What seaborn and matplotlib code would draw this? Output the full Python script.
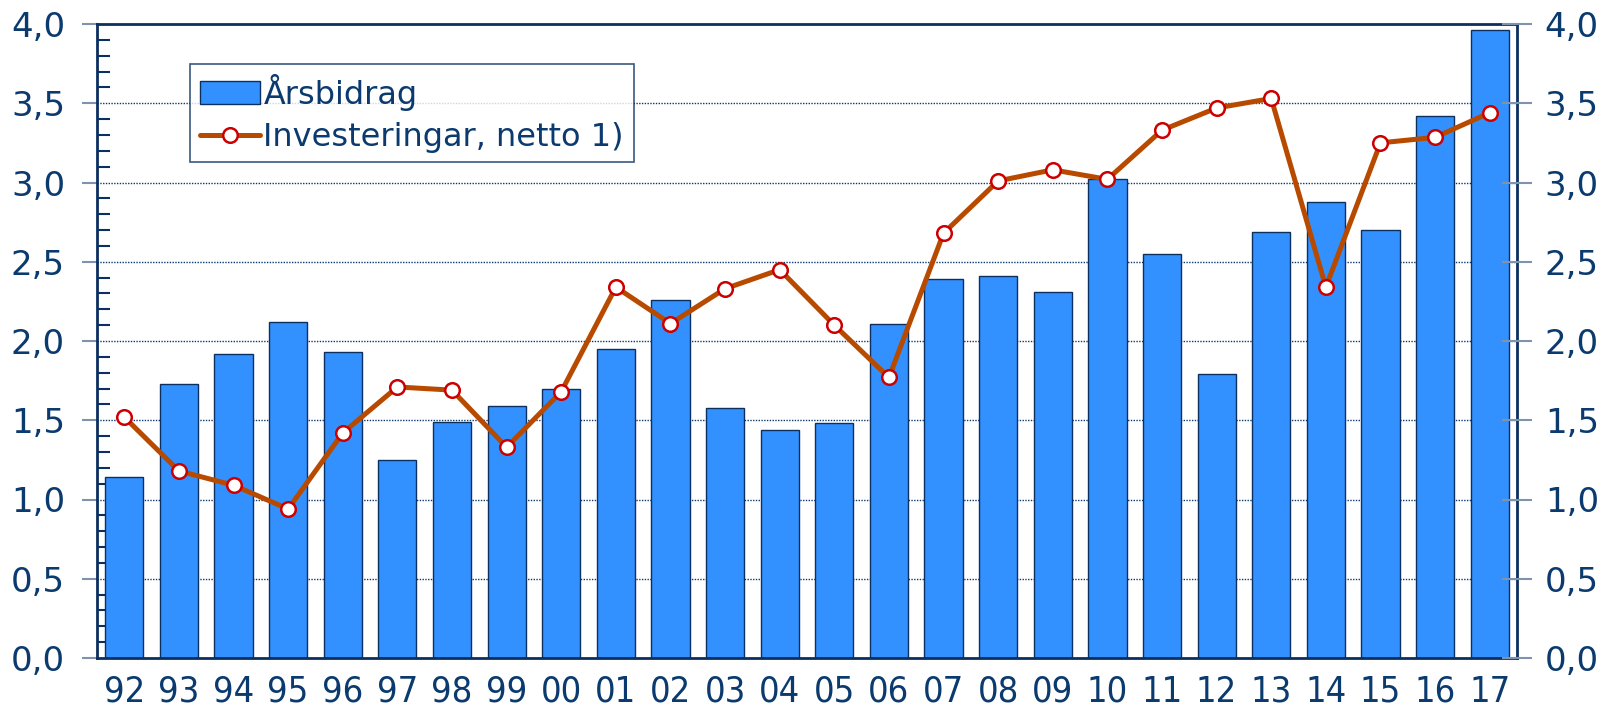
import numpy as np
import matplotlib
matplotlib.use('Agg')
import matplotlib.pyplot as plt
import pandas as pd
import seaborn as sns
from matplotlib.patches import Patch
from matplotlib.lines import Line2D
from matplotlib.ticker import MultipleLocator

years = ['92', '93', '94', '95', '96', '97', '98', '99', '00', '01', '02', '03', '04',
         '05', '06', '07', '08', '09', '10', '11', '12', '13', '14', '15', '16', '17']
arsbidrag = [1.14, 1.73, 1.92, 2.12, 1.93, 1.25, 1.49, 1.59, 1.70, 1.95, 2.26, 1.58, 1.44,
             1.48, 2.11, 2.39, 2.41, 2.31, 3.02, 2.55, 1.79, 2.69, 2.875, 2.70, 3.42, 3.96]
investeringar = [1.52, 1.18, 1.09, 0.94, 1.42, 1.71, 1.69, 1.33, 1.68, 2.34, 2.11, 2.33, 2.45,
                 2.10, 1.77, 2.68, 3.01, 3.08, 3.02, 3.33, 3.47, 3.53, 2.34, 3.25, 3.285, 3.44]

df = pd.DataFrame({'ar': years, 'bidrag': arsbidrag, 'invest': investeringar})

navy = '#0b3a6e'
spine_c = '#0b2f5f'
bar_c = '#3391ff'
line_c = '#b84a00'
mark_c = '#cc0000'

sns.set_style('white')
plt.rcParams['font.family'] = ['DejaVu Sans']

fig = plt.figure(figsize=(16.06, 7.14), dpi=100)
ax = fig.add_axes([97 / 1606, 56 / 714, 1420 / 1606, 634 / 714])

sns.barplot(data=df, x='ar', y='bidrag', color=bar_c, width=0.70, ax=ax,
            edgecolor=spine_c, linewidth=1.0, saturation=1, zorder=2)
sns.pointplot(data=df, x='ar', y='invest', color=line_c, errorbar=None, ax=ax,
              linewidth=3.6, markersize=10.5, markerfacecolor='white',
              markeredgecolor=mark_c, markeredgewidth=1.8, zorder=4)

ax.set_xlim(-0.5, len(years) - 0.5)
ax.set_ylim(0, 4.0)
ax.set_xlabel('')
ax.set_ylabel('')

# grid
ax.yaxis.set_major_locator(MultipleLocator(0.5))
ax.yaxis.set_minor_locator(MultipleLocator(0.1))
for v in np.arange(0.5, 4.0, 0.5):
    ax.axhline(v, color=navy, linestyle=(0, (1, 1)), linewidth=1.0, zorder=1)

ax.set_yticklabels([f'{v:.1f}'.replace('.', ',') for v in ax.get_yticks()])
ax.tick_params(axis='y', which='major', direction='out', length=11, width=1.5,
               color='#7f93ad', labelsize=24.5, labelcolor=navy, pad=12)
ax.tick_params(axis='y', which='minor', direction='in', length=9, width=1.5, color=spine_c)

# x ticks between categories
ax.set_xticks(np.arange(len(years)))
ax.set_xticklabels(years, family=['Liberation Sans Narrow', 'DejaVu Sans'],
                   fontstretch='condensed')
ax.tick_params(axis='x', which='major', length=0, labelsize=26, labelcolor=navy, pad=12)
ax.set_xticks(np.arange(-0.5, len(years)), minor=True)
ax.tick_params(axis='x', which='minor', direction='out', length=10, width=1.5, color=spine_c)

for s in ['left', 'top', 'bottom', 'right']:
    ax.spines[s].set_visible(True)
    ax.spines[s].set_color(spine_c)
    ax.spines[s].set_linewidth(2)

ax2 = ax.twinx()
ax2.set_ylim(0, 4.0)
ax2.yaxis.set_major_locator(MultipleLocator(0.5))
ax2.set_yticklabels([f'{v:.1f}'.replace('.', ',') for v in ax2.get_yticks()])
ax2.tick_params(axis='y', which='major', direction='inout', length=22, width=1.5,
                color='#7f93ad', labelsize=24.5, labelcolor=navy, pad=9)
ax2.grid(False)
for s in ax2.spines.values():
    s.set_visible(False)

handles = [
    Patch(facecolor=bar_c, edgecolor=spine_c, linewidth=1.0),
    Line2D([], [], color=line_c, linewidth=3.6, marker='o', markersize=10.5,
           markerfacecolor='white', markeredgecolor=mark_c, markeredgewidth=1.8),
]
leg = ax.legend(handles, ['Årsbidrag', 'Investeringar, netto 1)'],
                loc='upper left', bbox_to_anchor=(0.0655, 0.937), borderaxespad=0,
                fontsize=23, frameon=True, fancybox=False, handlelength=1.9,
                handletextpad=0.1, borderpad=0.3, labelspacing=0.35, labelcolor=navy)
leg.get_frame().set_edgecolor(spine_c)
leg.get_frame().set_linewidth(1.2)
leg.set_zorder(10)

fig.savefig('out.png', dpi=100)
